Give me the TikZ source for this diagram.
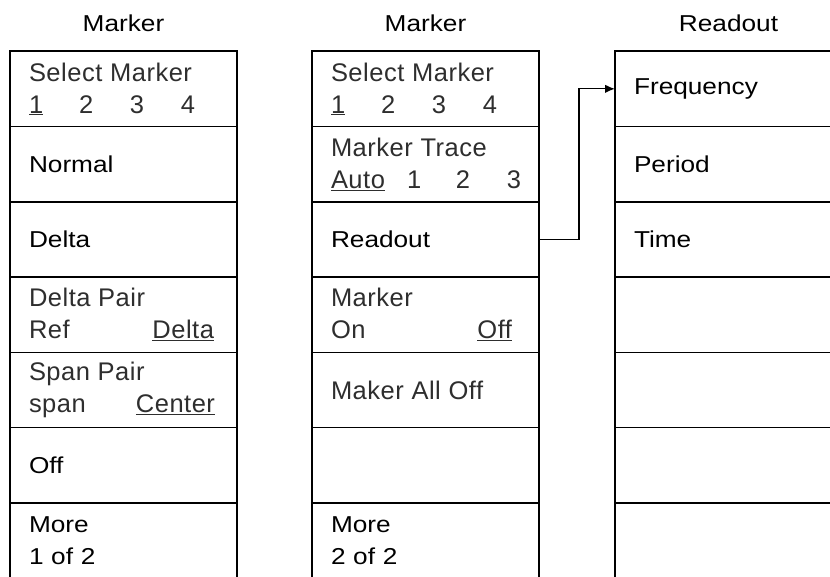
\documentclass[tikz,border=0pt]{standalone}
\usepackage{fontspec}
\setmainfont{Liberation Sans}[FakeStretch=1.14]
\newfontfamily\softfont{Liberation Sans}[LetterSpace=2]
\newcommand{\softtxt}[1]{{\softfont\fontsize{25.5}{32}\selectfont\color{black!82}#1}}
\usetikzlibrary{shapes,arrows,arrows.meta,positioning}

\tikzset{
    menukey/.style={rectangle, draw, line width=1.5pt, outer sep=0pt,
        minimum width=227pt, minimum height=75.3pt, text width=189pt,
        inner xsep=19pt, inner ysep=0pt, align=left,
        font=\fontsize{23}{32}\selectfont},
    menutitle/.style={inner sep=0pt, font=\fontsize{23}{26}\selectfont},
    conn/.style={line width=1.3pt, arrows={-Latex[length=10pt,width=8.5pt]}}
}

\begin{document}
\begin{tikzpicture}[x=1pt,y=1pt]
    \useasboundingbox (0,0) rectangle (830,-577);

    	%-----Marker 1 of 2-----
        \node [menukey] (mka) at (123.5,-88.85) {%
            \softtxt{Select Marker} \\
            \softtxt{\makebox[50pt][l]{\underline{1}}\makebox[51pt][l]{2}\makebox[51pt][l]{3}4}
        };
        \node [menukey, below=0pt of mka] (mkb) {Normal};
        \node [menukey, below=0pt of mkb] (mkc) {Delta};
        \node [menukey, below=0pt of mkc] (mkd) {%
            \softtxt{Delta Pair} \\
            \softtxt{Ref\hfill\underline{Delta}\hspace{4pt}}
        };
        \node [menukey, below=0pt of mkd] (mke) {%
            \softtxt{Span Pair} \\
            \softtxt{span\hfill\underline{Center}\hspace{3pt}}
        };
        \node [menukey, below=0pt of mke] (mkf) {Off};
        \node [menukey, below=0pt of mkf] (mkg) {More \\ 1 of 2};

        %-----Marker 2 of 2-----
        \node [menukey, right=75pt of mka] (mpa) {%
            \softtxt{Select Marker} \\
            \softtxt{\makebox[50pt][l]{\underline{1}}\makebox[51pt][l]{2}\makebox[51pt][l]{3}4}
        };
        \node [menukey, below=0pt of mpa] (mpb) {%
            \softtxt{Marker Trace} \\
            \softtxt{\makebox[76pt][l]{\underline{Auto}}\makebox[49pt][l]{1}\makebox[51pt][l]{2}3}
        };
        \node [menukey, below=0pt of mpb] (mpc) {Readout};
        \node [menukey, below=0pt of mpc] (mpd) {%
            \softtxt{Marker} \\
            \softtxt{On\hfill\underline{Off}\hspace{8pt}}
        };
        \node [menukey, below=0pt of mpd] (mpe) {\softtxt{Maker All Off}};
        \node [menukey, below=0pt of mpe] (mpf) {};
        \node [menukey, below=0pt of mpf] (mpg) {More \\ 2 of 2};

        %-----Readout-----
        \node [menukey, right=76pt of mpa] (rda) {Frequency};
        \node [menukey, below=0pt of rda] (rdb) {Period};
        \node [menukey, below=0pt of rdb] (rdc) {Time};
        \node [menukey, below=0pt of rdc] (rdd) {};
        \node [menukey, below=0pt of rdd] (rde) {};
        \node [menukey, below=0pt of rde] (rdf) {};
        \node [menukey, below=0pt of rdf] (rdg) {};

        % Titles
        \node [menutitle, above=19pt of mka] (tmk) {Marker};
        \node [menutitle, above=19pt of mpa] (tmp) {Marker};
        \node [menutitle, above=19pt of rda] (trd) {Readout};

        % Readout softkey leads to its menu
        \draw [conn] (mpc.east) -- ++(40,0) |- (rda.west);

    \end{tikzpicture}
\end{document}
